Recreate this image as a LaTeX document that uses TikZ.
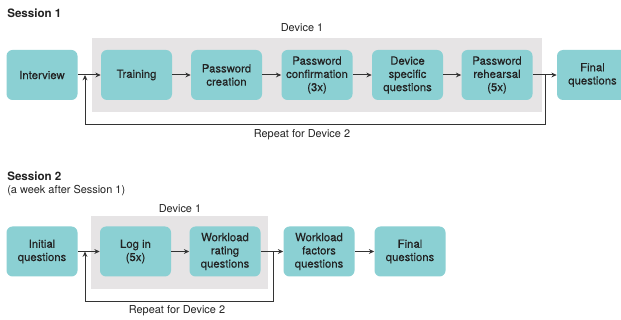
\documentclass[tikz,border=0pt]{standalone}
\usepackage{fontspec}
\setmainfont{TeX Gyre Heros}
\newfontfamily\medfont{TeX Gyre Heros}[FakeBold=0.35]
\usetikzlibrary{arrows.meta}

\definecolor{boxteal}{HTML}{8BD0D3}
\definecolor{devgray}{HTML}{E6E4E5}
\definecolor{inkdark}{HTML}{222222}
\definecolor{linedark}{HTML}{333333}

\tikzset{
  box/.style={fill=boxteal, rounded corners=4.5pt, minimum width=53.25pt,
    minimum height=37.5pt, inner sep=0pt, align=center, text=inkdark,
    font=\medfont\fontsize{8.5}{9.9}\selectfont},
  lbl/.style={text=inkdark, inner sep=0pt, font=\fontsize{8.2}{9.5}\selectfont},
  ttl/.style={text=inkdark, inner sep=0pt, anchor=west, font=\fontsize{8.7}{10}\selectfont\bfseries},
  conn/.style={draw=linedark, line width=0.75pt},
  arr/.style={conn, -{Stealth[length=4pt,width=3.6pt]}}
}

\begin{document}
\begin{tikzpicture}[x=0.75pt,y=-0.75pt]
		\useasboundingbox (0,0) rectangle (621,320);
		% Session 1
		\node[ttl] (s1) at (7,13) {Session 1};
		\fill[devgray] (92,38) rectangle (542,112);
		\node[lbl] (dev1) at (302,28) {Device 1};
		\foreach \n/\x/\t in {interview/42/Interview, train/136.5/Training,
			pwcreate/226.5/{Password\\creation}, pwconfirm/317/{Password\\confirmation\\(3x)},
			devq/407.5/{Device\\specific\\questions}, rehearse/497/{Password\\rehearsal\\(5x)},
			final/592.5/{Final\\questions}}{
			\node[box] (\n) at (\x,75) {\t};
		}
		\coordinate (j1) at (85,75);
		\coordinate (j2) at (545,75);
		\draw[arr] (interview) -- (train);
		\foreach \a/\b in {train/pwcreate, pwcreate/pwconfirm, pwconfirm/devq, devq/rehearse}{
			\draw[arr] (\a) -- (\b);
		}
		\draw[conn] (rehearse) -- (j2);
		\draw[arr] (j2) -- (final);
		\draw[arr] (j2) -- ++(0,50) -| (j1);
		\node[lbl] (rep1) at (302,135) {Repeat for Device 2};
		
		% Session 2
		\node[ttl] (s2) at (7,176) {Session 2};
		\node[lbl, anchor=west] (s2sub) at (7,191) {(a week after Session 1)};
		\fill[devgray] (91,216) rectangle (268,289);
		\node[lbl] (dev1b) at (180,209) {Device 1};
		\foreach \n/\x/\t in {initq/42/{Initial\\questions}, login/135.5/{Log in\\(5x)},
			wrate/225/{Workload\\rating\\questions}, wfact/319/{Workload\\factors\\questions},
			finalb/410/{Final\\questions}}{
			\node[box] (\n) at (\x,251.5) {\t};
		}
		\coordinate (j3) at (85,251.5);
		\coordinate (j4) at (273,251.5);
		\draw[arr] (initq) -- (login);
		\draw[arr] (login) -- (wrate);
		\draw[conn] (wrate) -- (j4);
		\draw[arr] (j4) -- (wfact);
		\draw[arr] (wfact) -- (finalb);
		\draw[arr] (j4) -- ++(0,50.5) -| (j3);
		\node[lbl] (rep2) at (177,311) {Repeat for Device 2};
	\end{tikzpicture}
\end{document}
